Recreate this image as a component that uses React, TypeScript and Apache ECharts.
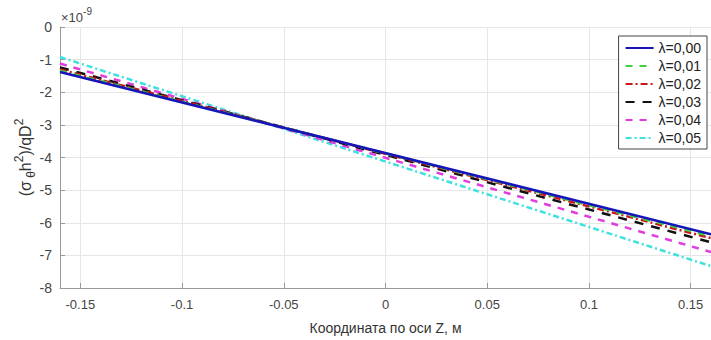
import React, { useEffect, useRef } from "react";
import * as echarts from "echarts";

// z coordinate, m
const zValues = [-0.16, 0.16];
// stress values, in units of 1e-9
const lam000 = [-1.38, -6.35];
const lam001 = [-1.34, -6.41];
const lam002 = [-1.3, -6.47];
const lam003 = [-1.24, -6.6];
const lam004 = [-1.12, -6.9];
const lam005 = [-0.92, -7.33];
const seriesNames = ["λ=0,00", "λ=0,01", "λ=0,02", "λ=0,03", "λ=0,04", "λ=0,05"];
const xTicks = [-0.15, -0.1, -0.05, 0, 0.05, 0.1, 0.15];

const FONT = "Liberation Sans, Arial, sans-serif";

export default function App() {
  const ref = useRef<HTMLDivElement>(null);
  useEffect(() => {
    if (!ref.current) return;
    const chart = echarts.init(ref.current, undefined, { renderer: "svg" });
    const all = [lam000, lam001, lam002, lam003, lam004, lam005];
    const colors = ["#1515b8", "#3fd13f", "#c81818", "#111111", "#e03ce0", "#3ee0e0"];
    const dashes: any[] = ["solid", [7, 7], [7, 3, 2, 3], [9, 8], [7, 7], [6, 3, 2, 3]];
    const series = all.map((vals, i) => ({
      name: seriesNames[i],
      type: "line",
      data: zValues.map((z, k) => [z, vals[k]]),
      symbol: "none",
      lineStyle: { color: colors[i], width: 2.5, type: dashes[i] },
      itemStyle: { color: colors[i] },
      z: 10 - i,
    }));
    chart.setOption({
      animation: false,
      grid: { left: 60, right: -7, top: 27, bottom: 48, containLabel: false },
      xAxis: {
        type: "value",
        min: -0.16,
        max: 0.16,
        name: "Координата по оси Z, м",
        nameLocation: "middle",
        nameGap: 33,
        nameMoveOverlap: false,
        nameTextStyle: { fontFamily: FONT, fontSize: 14, color: "#333" },
        axisLine: { onZero: false, lineStyle: { color: "#999", width: 1 } },
        axisTick: { show: true, inside: true, length: 5, lineStyle: { color: "#999" }, customValues: xTicks },
        splitLine: { show: true, lineStyle: { color: "#e6e6e6", width: 1 } },
        axisLabel: {
          fontFamily: FONT,
          fontSize: 13,
          color: "#444",
          margin: 10,
          customValues: xTicks,
          formatter: (v: number) => String(Math.round(v * 100) / 100),
        },
      },
      yAxis: {
        type: "value",
        min: -8,
        max: 0,
        interval: 1,
        name: "{a|(σ}{s| θ}{a|h}{p|2}{a|)/qD}{p|2}",
        nameLocation: "middle",
        nameGap: 23,
        nameMoveOverlap: false,
        nameTextStyle: {
          rich: {
            a: { fontFamily: FONT, fontSize: 16, color: "#333", lineHeight: 24, verticalAlign: "middle" },
            s: { fontFamily: FONT, fontSize: 12, color: "#333", lineHeight: 24, verticalAlign: "bottom", padding: [6, 0, 0, 0] },
            p: { fontFamily: FONT, fontSize: 12, color: "#333", lineHeight: 24, verticalAlign: "top", padding: [0, 0, 8, 0] },
          },
        },
        axisLine: { show: true, onZero: false, lineStyle: { color: "#999", width: 1 } },
        axisTick: { show: true, inside: true, length: 5, lineStyle: { color: "#999" } },
        splitLine: { show: true, lineStyle: { color: "#e6e6e6", width: 1 } },
        axisLabel: { fontFamily: FONT, fontSize: 14, color: "#444", margin: 8 },
      },
      legend: {
        orient: "vertical",
        right: 4,
        top: 36,
        backgroundColor: "#fff",
        borderColor: "#444",
        borderWidth: 1,
        borderRadius: 0,
        padding: [5, 6, 4, 6],
        itemGap: 4,
        itemWidth: 28,
        itemHeight: 14,
        itemStyle: { opacity: 0 },
        textStyle: { fontFamily: FONT, fontSize: 14, color: "#222" },
        data: seriesNames,
      },
      graphic: [
        {
          type: "text",
          left: 61,
          top: 6,
          style: {
            text: "{a|×10}{p|-9}",
            rich: {
              a: { fontFamily: FONT, fontSize: 13, fill: "#444", lineHeight: 18, verticalAlign: "bottom" },
              p: { fontFamily: FONT, fontSize: 10, fill: "#444", lineHeight: 18, verticalAlign: "top", padding: [0, 0, 7, 0] },
            },
          },
        },
      ],
      series,
    });
    return () => chart.dispose();
  }, []);
  return <div ref={ref} style={{ width: 711, height: 340, position: "absolute", left: 0, top: 0 }} />;
}
